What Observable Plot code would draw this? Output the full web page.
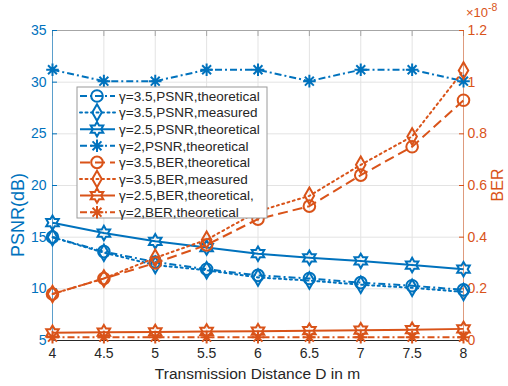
<!DOCTYPE html>
<html><head><meta charset="utf-8">
<script src="https://cdn.jsdelivr.net/npm/d3@7"></script>
<script src="https://cdn.jsdelivr.net/npm/@observablehq/plot@0.6"></script>
<style>body{margin:0;background:#fff;font-family:"Liberation Sans",Arial,sans-serif}</style>
</head><body><div id="chart"></div>
<script>
const distance = [4, 4.5, 5, 5.5, 6, 6.5, 7, 7.5, 8];
const psnrG35Theory   = [15.0, 13.6, 12.6, 11.9, 11.3, 11.0, 10.6, 10.3, 9.9];
const psnrG35Measured = [15.0, 13.5, 12.3, 11.8, 11.1, 10.8, 10.4, 10.1, 9.7];
const psnrG25Theory   = [16.4, 15.4, 14.6, 14.0, 13.4, 13.0, 12.7, 12.3, 11.9];
const psnrG2Theory    = [31.2, 30.1, 30.1, 31.2, 31.2, 30.1, 31.2, 31.2, 30.1];
const berG35Theory    = [0.18, 0.24, 0.30, 0.37, 0.47, 0.52, 0.64, 0.75, 0.93];
const berG35Measured  = [0.18, 0.24, 0.32, 0.39, 0.50, 0.56, 0.68, 0.79, 1.045];
const berG25Theory    = [0.030, 0.032, 0.033, 0.035, 0.036, 0.038, 0.040, 0.042, 0.045];
const berG2Theory     = [0.013, 0.013, 0.013, 0.013, 0.013, 0.013, 0.013, 0.013, 0.013];
const xTicks = [4, 4.5, 5, 5.5, 6, 6.5, 7, 7.5, 8];
const psnrTicks = [5, 10, 15, 20, 25, 30, 35];
const berTicks = [0, 0.2, 0.4, 0.6, 0.8, 1, 1.2];
const legendLabels = [
  "γ=3.5,PSNR,theoretical", "γ=3.5,PSNR,measured", "γ=2.5,PSNR,theoretical", "γ=2,PSNR,theoretical",
  "γ=3.5,BER,theoretical", "γ=3.5,BER,measured", "γ=2.5,BER,theoretical,", "γ=2,BER,theoretical"
];
const xLabel = "Transmission Distance D in m";
const leftLabel = "PSNR(dB)";
const rightLabel = "BER";

const blue = "#0072BD", orange = "#D95319", ink = "#262626";
const W = 508, H = 386;
const mL = 52, mR = 45, mT = 30, mB = 46;
const psnrMin = 5, psnrMax = 35, berMax = 1.2;
const toLeft = b => psnrMin + b * (psnrMax - psnrMin) / berMax;
const toBer = v => (v - psnrMin) * berMax / (psnrMax - psnrMin);

const hexagram = {draw(ctx, size) {
  const R = Math.sqrt(size / Math.PI) * 1.25, r = R / Math.sqrt(3);
  for (let i = 0; i < 12; i++) {
    const a = -Math.PI / 2 + i * Math.PI / 6, rr = i % 2 ? r : R;
    const x = rr * Math.cos(a), y = rr * Math.sin(a);
    i ? ctx.lineTo(x, y) : ctx.moveTo(x, y);
  }
  ctx.closePath();
}};
const asterisk8 = {draw(ctx, size) {
  const R = Math.sqrt(size / Math.PI);
  for (let i = 0; i < 4; i++) {
    const a = i * Math.PI / 4;
    ctx.moveTo(-R * Math.cos(a), -R * Math.sin(a));
    ctx.lineTo(R * Math.cos(a), R * Math.sin(a));
  }
}};
const dashDot = "7,3,2,3", dashed = "10,5", dotted = "2,3.5";
const series = [
  {values: psnrG35Theory, axis: "left", color: blue, dash: dashDot, symbol: "circle", r: 5.8},
  {values: psnrG35Measured, axis: "left", color: blue, dash: dotted, symbol: "diamond", r: 5},
  {values: psnrG25Theory, axis: "left", color: blue, dash: null, symbol: hexagram, r: 5.8},
  {values: psnrG2Theory, axis: "left", color: blue, dash: dashDot, symbol: asterisk8, r: 6.3},
  {values: berG35Theory, axis: "right", color: orange, dash: dashed, symbol: "circle", r: 5.8},
  {values: berG35Measured, axis: "right", color: orange, dash: dotted, symbol: "diamond", r: 5},
  {values: berG25Theory, axis: "right", color: orange, dash: null, symbol: hexagram, r: 5.8},
  {values: berG2Theory, axis: "right", color: orange, dash: dashDot, symbol: asterisk8, r: 6.3}
];
series.forEach((s, k) => {
  s.label = legendLabels[k];
  s.data = distance.map((d, i) => ({x: d, y: s.axis === "left" ? s.values[i] : toLeft(s.values[i])}));
});

const marks = [
  Plot.gridX(xTicks, {stroke: "#e3e3e3", strokeOpacity: 1}),
  Plot.gridY(psnrTicks, {stroke: "#e3e3e3", strokeOpacity: 1}),
  Plot.ruleY([psnrMax], {stroke: "#a6a6a6", strokeWidth: 1}),
  Plot.axisX(xTicks, {anchor: "top", tickSize: -5, tickFormat: () => "", stroke: "#a6a6a6", label: null}),
  Plot.ruleY([psnrMin], {stroke: ink, strokeWidth: 1}),
  Plot.ruleX([xTicks[0]], {stroke: blue, strokeWidth: 1, strokeOpacity: 0.6}),
  Plot.ruleX([xTicks[xTicks.length - 1]], {stroke: orange, strokeWidth: 1, strokeOpacity: 0.5}),
  Plot.axisX(xTicks, {anchor: "bottom", tickSize: -5, tickPadding: 13, fontSize: 14, color: ink, label: null, tickFormat: d3.format("~g")}),
  Plot.axisY(psnrTicks, {anchor: "left", tickSize: -5, tickPadding: 11, fontSize: 14, color: blue, label: null}),
  Plot.axisY(berTicks.map(toLeft), {anchor: "right", tickSize: -5, tickPadding: 9, fontSize: 14, color: orange, label: null,
    tickFormat: v => d3.format("~g")(+toBer(v).toFixed(3))})
];
for (const s of series) {
  marks.push(Plot.line(s.data, {x: "x", y: "y", stroke: s.color, strokeWidth: 2, strokeDasharray: s.dash, strokeLinecap: s.dash === dotted ? "round" : "butt"}));
  marks.push(Plot.dot(s.data, {x: "x", y: "y", symbol: s.symbol, r: s.r, stroke: s.color, strokeWidth: 2, fill: "none"}));
}

const svg = Plot.plot({
  width: W, height: H,
  marginLeft: mL, marginRight: mR, marginTop: mT, marginBottom: mB,
  style: {fontFamily: "'Liberation Sans', Arial, sans-serif", background: "#fff", overflow: "visible"},
  x: {domain: [xTicks[0], xTicks[xTicks.length - 1]]},
  y: {domain: [psnrMin, psnrMax]},
  marks
});
document.getElementById("chart").appendChild(svg);

const g = d3.select(svg).append("g").style("font-family", "'Liberation Sans', Arial, sans-serif");
const pw = W - mL - mR, ph = H - mT - mB;
// axis labels
g.append("text").attr("x", mL + pw / 2).attr("y", 379).attr("text-anchor", "middle")
  .attr("font-size", 15.5).attr("fill", ink).text(xLabel);
g.append("text").attr("transform", `translate(24,${mT + ph / 2 + 30}) rotate(-90)`).attr("text-anchor", "middle")
  .attr("font-size", 18).attr("fill", blue).text(leftLabel);
g.append("text").attr("transform", `translate(503,${mT + ph / 2}) rotate(-90)`).attr("text-anchor", "middle")
  .attr("font-size", 16).attr("fill", orange).text(rightLabel);
// exponent
const ex = g.append("text").attr("x", W - mR + 3).attr("y", 17).attr("fill", orange).attr("font-size", 13).attr("text-anchor", "start");
ex.append("tspan").text("×10");
ex.append("tspan").attr("dy", -6).attr("font-size", 10.5).text("-8");
// legend
const lx = 77, ly = 87, lw = 190, lh = 131, rowH = 16.6;
const lg = g.append("g");
lg.append("rect").attr("x", lx).attr("y", ly).attr("width", lw).attr("height", lh)
  .attr("fill", "#fff").attr("stroke", "#9a9a9a").attr("stroke-width", 1);
const symType = s => s === "circle" ? d3.symbolCircle : s === "diamond" ? d3.symbolDiamond : s;
series.forEach((s, i) => {
  const cy = ly + 9 + i * rowH;
  lg.append("line").attr("x1", lx + 3).attr("x2", lx + 38).attr("y1", cy).attr("y2", cy)
    .attr("stroke", s.color).attr("stroke-width", 2).attr("stroke-dasharray", s.dash)
    .attr("stroke-linecap", s.dash === dotted ? "round" : "butt");
  lg.append("path").attr("transform", `translate(${lx + 20},${cy})`)
    .attr("d", d3.symbol(symType(s.symbol), Math.PI * s.r * s.r)())
    .attr("fill", "none").attr("stroke", s.color).attr("stroke-width", 2);
  lg.append("text").attr("x", lx + 42).attr("y", cy).attr("dy", "0.35em").attr("text-anchor", "start")
    .attr("font-size", 13.5).attr("fill", ink).text(s.label);
});
</script></body></html>
